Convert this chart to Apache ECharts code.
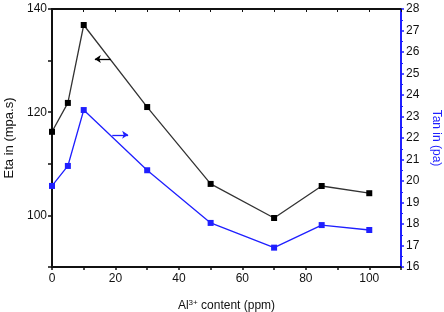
<!DOCTYPE html>
<html>
<head>
<meta charset="utf-8">
<script src="https://cdn.jsdelivr.net/npm/echarts@6/dist/echarts.min.js"></script>
<style>
  html, body { margin: 0; padding: 0; background: #fff; }
  #chart { width: 444px; height: 312px; }
</style>
</head>
<body>
<div id="chart"></div>
<script>
// Al3+ content (ppm)
const alContent = [0, 5, 10, 30, 50, 70, 85, 100]
// viscosity, left axis
const etaValues = [116.2, 121.8, 136.9, 121.0, 106.1, 99.5, 105.7, 104.3]
// tan, right axis
const tanValues = [19.77, 20.7, 23.3, 20.5, 18.05, 16.9, 17.95, 17.72]
// annotation arrows (data coords): [from, to]
const etaArrow = [[18.5, 130.3], [13.5, 130.3]]
const tanArrow = [[19, 22.15], [24, 22.15]]

const chart = echarts.init(document.getElementById('chart'))

const font = 'Liberation Sans, Arial, sans-serif'
const black = '#111'
const blue = '#1f1fff'

const option = {
  animation: false,
  grid: {
    left: 52, right: 43, top: 9, bottom: 45,
    outerBoundsMode: 'none',
    show: true, borderColor: black, borderWidth: 2, backgroundColor: 'transparent'
  },
  xAxis: [
    {
      type: 'value',
      position: 'bottom',
      min: 0,
      max: 110,
      interval: 10,
      name: 'Al{sup|3+} content (ppm)',
      nameLocation: 'middle',
      nameGap: 32,
      nameTextStyle: {
        fontFamily: font, fontSize: 12, color: black,
        rich: {
          sup: { fontFamily: font, fontSize: 8, color: black, verticalAlign: 'top', padding: [0, 0, 6, 0] }
        }
      },
      axisLine: { onZero: false, lineStyle: { color: black, width: 2 } },
      axisTick: { inside: false, length: 3, lineStyle: { color: black, width: 1.5 } },
      axisLabel: {
        fontFamily: font, fontSize: 12, color: black, margin: 6,
        formatter: v => (v % 20 === 0 && v <= 100 ? String(v) : '')
      },
      splitLine: { show: false }
    },
    {
      type: 'value',
      position: 'top',
      min: 0,
      max: 110,
      interval: 10,
      axisLine: { onZero: false, lineStyle: { color: black, width: 2 } },
      axisTick: { inside: true, length: 3, lineStyle: { color: black, width: 1 } },
      axisLabel: { show: false },
      splitLine: { show: false }
    }
  ],
  yAxis: [
    {
      type: 'value',
      position: 'left',
      min: 90,
      max: 140,
      interval: 10,
      name: 'Eta in (mpa.s)',
      nameLocation: 'middle',
      nameGap: 33,
      nameTextStyle: { fontFamily: font, fontSize: 13, color: black },
      axisLine: { show: true, onZero: false, lineStyle: { color: black, width: 2 } },
      axisTick: { show: true, length: 4, lineStyle: { color: black, width: 1.5 } },
      axisLabel: {
        fontFamily: font, fontSize: 12, color: black, margin: 5,
        formatter: v => (v % 20 === 0 ? String(v) : '')
      },
      splitLine: { show: false }
    },
    {
      type: 'value',
      position: 'right',
      min: 16,
      max: 28,
      interval: 1,
      name: 'Tan in (pa)',
      nameLocation: 'middle',
      nameGap: 28,
      nameRotate: -90,
      nameTextStyle: { fontFamily: font, fontSize: 12, color: blue },
      axisLine: { show: true, onZero: false, lineStyle: { color: blue, width: 2 } },
      axisTick: { show: true, length: 3, lineStyle: { color: blue, width: 1.5 } },
      minorTick: { show: true, splitNumber: 2, length: 2, lineStyle: { color: blue, width: 1 } },
      axisLabel: { fontFamily: font, fontSize: 12, color: black, margin: 5 },
      splitLine: { show: false }
    }
  ],
  series: [
    {
      name: 'Eta',
      type: 'line',
      xAxisIndex: 0,
      yAxisIndex: 0,
      data: alContent.map((x, i) => [x, etaValues[i]]),
      symbol: 'rect',
      symbolSize: 6,
      itemStyle: { color: '#000' },
      lineStyle: { color: '#333', width: 1.3 },
      markLine: {
        silent: true,
        symbol: ['none', 'arrow'],
        symbolSize: [6, 6],
        label: { show: false },
        lineStyle: { color: '#000', width: 1.3, type: 'solid' },
        data: [[{ coord: etaArrow[0] }, { coord: etaArrow[1] }]]
      }
    },
    {
      name: 'Tan',
      type: 'line',
      xAxisIndex: 0,
      yAxisIndex: 1,
      data: alContent.map((x, i) => [x, tanValues[i]]),
      symbol: 'rect',
      symbolSize: 6,
      itemStyle: { color: blue },
      lineStyle: { color: blue, width: 1.3 },
      markLine: {
        silent: true,
        symbol: ['none', 'arrow'],
        symbolSize: [6, 6],
        label: { show: false },
        lineStyle: { color: blue, width: 1.3, type: 'solid' },
        data: [[{ coord: tanArrow[0] }, { coord: tanArrow[1] }]]
      }
    }
  ]
}

chart.setOption(option)
</script>
</body>
</html>
